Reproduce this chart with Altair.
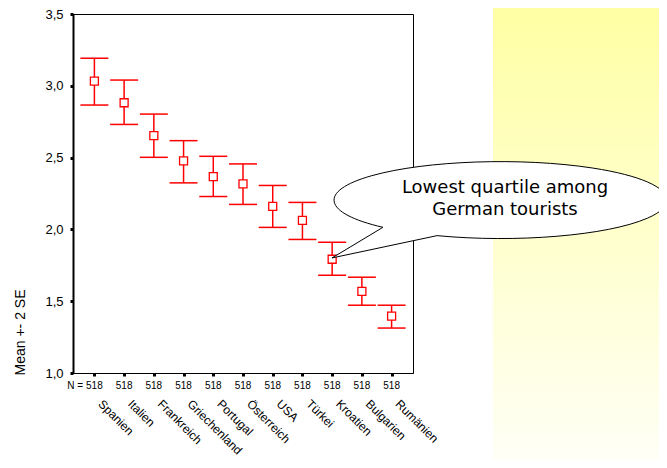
import altair as alt
import pandas as pd

countries = ["Spanien", "Italien", "Frankreich", "Griechenland", "Portugal",
             "Österreich", "USA", "Türkei", "Kroatien", "Bulgarien", "Rumänien"]
means = [3.033, 2.882, 2.653, 2.477, 2.368, 2.317, 2.160, 2.063, 1.792, 1.569, 1.396]
uppers = [3.192, 3.040, 2.803, 2.618, 2.509, 2.456, 2.306, 2.188, 1.910, 1.667, 1.472]
lowers = [2.866, 2.731, 2.502, 2.324, 2.229, 2.174, 2.014, 1.930, 1.680, 1.472, 1.313]
ns = [518] * 11
y_ticks = [1.0, 1.5, 2.0, 2.5, 3.0, 3.5]

df = pd.DataFrame({"country": countries, "mean": means, "upper": uppers,
                   "lower": lowers, "n": ns})
one = pd.DataFrame({"a": [0]})

W, H = 340, 359
RED = "#ff0000"
FONT = "Liberation Sans"

xscale = alt.Scale(type="point", domain=countries, padding=0.72)
yscale = alt.Scale(domain=[1.0, 3.5], nice=False, zero=False)

xaxis = alt.Axis(title=None, labelAngle=45, labelAlign="left", labelBaseline="top",
                 labelFont=FONT, labelFontSize=12, labelColor="black",
                 labelPadding=22, labelOffset=9, labelOverlap=False, labelLimit=0,
                 labelBound=False,
                 tickSize=3, tickWidth=3, tickColor="black", domainColor="black",
                 domainWidth=1, grid=False)
yaxis = alt.Axis(title="Mean +- 2 SE", values=y_ticks,
                 labelExpr="replace(format(datum.value, '.1f'), '.', ',')",
                 labelFont=FONT, labelFontSize=13, labelColor="black", labelPadding=7,
                 tickSize=3, tickWidth=3, tickColor="black", domainColor="black",
                 domainWidth=2, grid=False,
                 titleFont=FONT, titleFontSize=14, titleFontWeight="normal",
                 titleColor="black", titleAngle=270, titleAlign="center",
                 titleBaseline="middle", titleX=-53, titleY=318)

X = alt.X("country:N", scale=xscale, axis=xaxis, sort=countries)

bg = alt.Chart(one).mark_rect(
    color=alt.Gradient(gradient="linear",
                       stops=[alt.GradientStop(color="#ffffa4", offset=0),
                              alt.GradientStop(color="#fffff6", offset=1)],
                       x1=0, x2=0, y1=0, y2=1)
).encode(x=alt.value(420), x2=alt.value(600), y=alt.value(-6), y2=alt.value(446))

bars = alt.Chart(df).mark_rule(color=RED, strokeWidth=1.5).encode(
    x=X,
    y=alt.Y("lower:Q", scale=yscale, axis=yaxis),
    y2="upper:Q")

cap_hi = alt.Chart(df).mark_tick(color=RED, size=28, thickness=1.5, opacity=1).encode(
    x=X, y=alt.Y("upper:Q", scale=yscale, axis=yaxis))
cap_lo = alt.Chart(df).mark_tick(color=RED, size=28, thickness=1.5, opacity=1).encode(
    x=X, y=alt.Y("lower:Q", scale=yscale, axis=yaxis))

pts = alt.Chart(df).mark_point(shape="square", size=64, filled=True, fill="white",
                               stroke=RED, strokeWidth=1.3, opacity=1).encode(
    x=X, y=alt.Y("mean:Q", scale=yscale, axis=yaxis))

ntext = alt.Chart(df).mark_text(font=FONT, fontSize=10, color="black",
                                baseline="middle").encode(
    x=X, y=alt.value(H + 13), text="n:N")

nlabel = alt.Chart(one).mark_text(font=FONT, fontSize=10, color="black",
                                  align="right", baseline="middle", text="N = ").encode(
    x=alt.value(10), y=alt.value(H + 13))

bubble_path = ("M -0.378 0.214 A 1 0.231 0 1 0 -0.703 0.164 L -1.009 0.348 Z")
bubble = alt.Chart(one).mark_point(shape=bubble_path, size=110889, filled=True,
                                   fill="white", stroke="black", strokeWidth=1,
                                   opacity=1).encode(
    x=alt.value(427), y=alt.value(186))

btext = alt.Chart(one).mark_text(font="DejaVu Sans", fontSize=18, color="black",
                                 align="center", baseline="middle", lineHeight=22,
                                 lineBreak="\n",
                                 text="Lowest quartile among\nGerman tourists").encode(
    x=alt.value(432), y=alt.value(174))

chart = alt.layer(bg, bars, cap_hi, cap_lo, pts, ntext, nlabel, bubble, btext).properties(
    width=W, height=H,
    autosize=alt.AutoSizeParams(type="none"),
    padding={"left": 65, "top": 6, "right": 246, "bottom": 87},
    background="white",
).configure_view(stroke="black", strokeWidth=1)

chart.save("out.html", embed_options={"renderer": "svg", "actions": False})
